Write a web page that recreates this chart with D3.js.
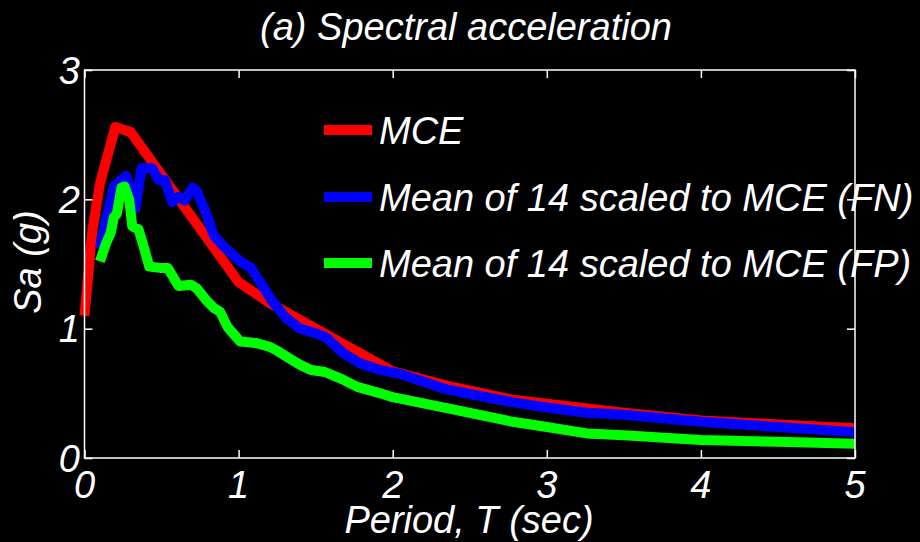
<!DOCTYPE html>
<html>
<head>
<meta charset="utf-8">
<script src="https://cdn.jsdelivr.net/npm/d3@7"></script>
<style>
  html, body { margin: 0; padding: 0; background: #000; }
  svg { display: block; }
  text { font-family: "Liberation Sans", Arial, sans-serif; font-style: italic; fill: #fff; }
</style>
</head>
<body>
<svg id="chart" width="920" height="542"></svg>
<script>
// Target MCE spectrum
const mcePeriod = [0, 0.05, 0.1, 0.2, 0.3, 1.0, 1.2, 1.5, 2.0, 2.35, 2.78, 3.0, 3.5, 4.0, 4.5, 5.0];
const mceSa     = [1.10, 1.75, 2.12, 2.56, 2.52, 1.36, 1.20, 1.00, 0.67, 0.56, 0.45, 0.42, 0.35, 0.29, 0.26, 0.23];

// Mean of 14 records scaled to MCE, fault-normal
const fnPeriod = [0.10, 0.14, 0.19, 0.23, 0.27, 0.33, 0.37, 0.44, 0.48, 0.52, 0.57, 0.61, 0.65, 0.70, 0.73,
                  0.79, 0.84, 0.90, 1.01, 1.08, 1.14, 1.22, 1.31, 1.40, 1.51, 1.57, 1.68, 1.79, 1.92, 2.05,
                  2.35, 2.78, 3.00, 3.26, 3.50, 4.00, 4.50, 5.00];
const fnSa     = [1.62, 1.84, 2.10, 2.14, 2.18, 1.93, 2.24, 2.24, 2.15, 2.15, 1.98, 2.02, 1.99, 2.09, 2.06,
                  1.89, 1.72, 1.64, 1.52, 1.47, 1.36, 1.21, 1.08, 1.00, 0.96, 0.93, 0.81, 0.73, 0.68, 0.65,
                  0.53, 0.43, 0.39, 0.35, 0.335, 0.28, 0.24, 0.20];

// Mean of 14 records scaled to MCE, fault-parallel
const fpPeriod = [0.10, 0.14, 0.17, 0.19, 0.21, 0.24, 0.26, 0.29, 0.31, 0.35, 0.39, 0.42, 0.49, 0.54, 0.61,
                  0.69, 0.73, 0.79, 0.84, 0.88, 0.93, 1.01, 1.11, 1.20, 1.25, 1.33, 1.40, 1.47, 1.56, 1.67,
                  1.77, 1.92, 2.00, 2.35, 2.78, 3.00, 3.26, 3.50, 4.00, 4.50, 5.00];
const fpSa     = [1.52, 1.66, 1.74, 1.86, 1.89, 2.09, 2.10, 2.00, 1.79, 1.77, 1.61, 1.48, 1.47, 1.47, 1.33,
                  1.34, 1.31, 1.22, 1.16, 1.13, 1.01, 0.90, 0.89, 0.86, 0.83, 0.77, 0.72, 0.68, 0.665, 0.61,
                  0.55, 0.50, 0.47, 0.385, 0.28, 0.24, 0.19, 0.175, 0.14, 0.125, 0.11];

const xTicks = [0, 1, 2, 3, 4, 5];
const yTicks = [0, 1, 2, 3];
const seriesNames  = ["MCE", "Mean of 14 scaled to MCE (FN)", "Mean of 14 scaled to MCE (FP)"];
const seriesColors = ["#ff0000", "#0000ff", "#00ff00"];

const svg = d3.select("#chart");
const W = 920, H = 542;
svg.append("rect").attr("width", W).attr("height", H).attr("fill", "#000");

const x = d3.scaleLinear().domain([0, 5]).range([84.5, 855]);
const y = d3.scaleLinear().domain([0, 3]).range([458, 70]);

const series = [
  { name: seriesNames[0], color: seriesColors[0], T: mcePeriod, Sa: mceSa },
  { name: seriesNames[1], color: seriesColors[1], T: fnPeriod,  Sa: fnSa },
  { name: seriesNames[2], color: seriesColors[2], T: fpPeriod,  Sa: fpSa }
];

const line = d3.line().x(d => x(d[0])).y(d => y(d[1]));

// spectra
svg.append("g").selectAll("path")
  .data(series)
  .join("path")
  .attr("d", s => line(s.T.map((t, i) => [t, s.Sa[i]])))
  .attr("fill", "none")
  .attr("stroke", s => s.color)
  .attr("stroke-width", 10)
  .attr("stroke-linejoin", "round")
  .attr("stroke-linecap", "butt");

// axes box with inward ticks
const axisColor = "#ffffff";
const tickLen = 8;
const frame = svg.append("g");
frame.append("rect")
  .attr("x", x(0)).attr("y", y(3))
  .attr("width", x(5) - x(0)).attr("height", y(0) - y(3))
  .attr("fill", "none").attr("stroke", axisColor).attr("stroke-width", 1.5);

const bottomAxis = d3.axisBottom(x).tickValues(xTicks).tickSize(-tickLen).tickFormat("");
const topAxis = d3.axisTop(x).tickValues(xTicks).tickSize(-tickLen).tickFormat("");
const leftAxis = d3.axisLeft(y).tickValues(yTicks).tickSize(-tickLen).tickFormat("");
const rightAxis = d3.axisRight(y).tickValues(yTicks).tickSize(-tickLen).tickFormat("");

[[bottomAxis, `translate(0,${y(0)})`], [topAxis, `translate(0,${y(3)})`],
 [leftAxis, `translate(${x(0)},0)`], [rightAxis, `translate(${x(5)},0)`]].forEach(([ax, tr]) => {
  const g = frame.append("g").attr("transform", tr).call(ax);
  g.select(".domain").remove();
  g.selectAll("line").attr("stroke", axisColor).attr("stroke-width", 1.5);
});

// tick labels
const fs = 38;
svg.append("g").selectAll("text")
  .data(xTicks)
  .join("text")
  .attr("x", d => x(d))
  .attr("y", 498)
  .attr("text-anchor", "middle")
  .attr("font-size", fs)
  .text(d => d);

svg.append("g").selectAll("text")
  .data(yTicks)
  .join("text")
  .attr("x", 80)
  .attr("y", d => y(d) + 13.5)
  .attr("text-anchor", "end")
  .attr("font-size", fs)
  .text(d => d);

// axis titles
svg.append("text")
  .attr("x", 469).attr("y", 533)
  .attr("text-anchor", "middle").attr("font-size", fs)
  .text("Period, T (sec)");

svg.append("text")
  .attr("transform", "translate(41,262) rotate(-90)")
  .attr("text-anchor", "middle").attr("font-size", fs)
  .text("Sa (g)");

svg.append("text")
  .attr("x", 466).attr("y", 40)
  .attr("text-anchor", "middle").attr("font-size", fs)
  .text("(a) Spectral acceleration");

// legend
const legend = svg.append("g");
const rowY = [130, 197, 263];
const entries = legend.selectAll("g")
  .data(series)
  .join("g")
  .attr("transform", (d, i) => `translate(0,${rowY[i]})`);
entries.append("line")
  .attr("x1", 324).attr("x2", 372)
  .attr("y1", 0).attr("y2", 0)
  .attr("stroke", d => d.color).attr("stroke-width", 10);
entries.append("text")
  .attr("x", 379).attr("y", 14)
  .attr("font-size", fs)
  .text(d => d.name);
</script>
</body>
</html>
